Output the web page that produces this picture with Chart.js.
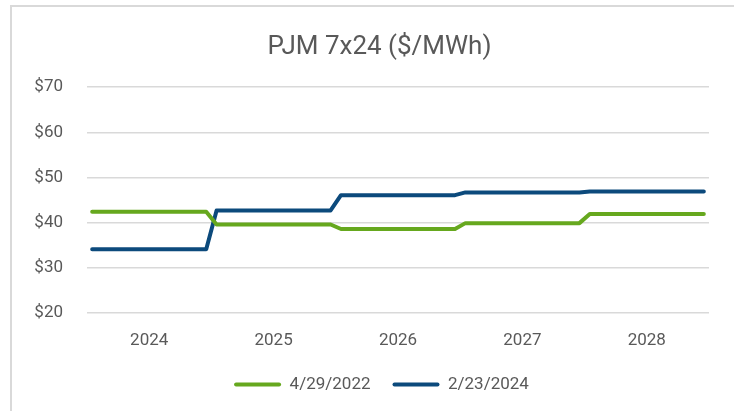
<!DOCTYPE html>
<html>
<head>
<meta charset="utf-8">
<script src="https://cdn.jsdelivr.net/npm/chart.js@4"></script>
<style>
  html, body { margin: 0; padding: 0; background: #ffffff; }
  #wrap { position: relative; width: 734px; height: 411px; overflow: hidden; background: #ffffff; }
  #frame { position: absolute; left: 10px; top: 5px; width: 800px; height: 500px; border: 2px solid #d9d9d9; box-sizing: border-box; }
  #c { position: absolute; left: 0; top: 0; }
</style>
</head>
<body>
<div id="wrap">
  <div id="frame"></div>
  <canvas id="c" width="734" height="411"></canvas>
</div>
<script>
// ---- Data ----
const years = ["2024", "2025", "2026", "2027", "2028"];
const months = [
  "Jan 2024","Feb 2024","Mar 2024","Apr 2024","May 2024","Jun 2024","Jul 2024","Aug 2024","Sep 2024","Oct 2024","Nov 2024","Dec 2024",
  "Jan 2025","Feb 2025","Mar 2025","Apr 2025","May 2025","Jun 2025","Jul 2025","Aug 2025","Sep 2025","Oct 2025","Nov 2025","Dec 2025",
  "Jan 2026","Feb 2026","Mar 2026","Apr 2026","May 2026","Jun 2026","Jul 2026","Aug 2026","Sep 2026","Oct 2026","Nov 2026","Dec 2026",
  "Jan 2027","Feb 2027","Mar 2027","Apr 2027","May 2027","Jun 2027","Jul 2027","Aug 2027","Sep 2027","Oct 2027","Nov 2027","Dec 2027",
  "Jan 2028","Feb 2028","Mar 2028","Apr 2028","May 2028","Jun 2028","Jul 2028","Aug 2028","Sep 2028","Oct 2028","Nov 2028","Dec 2028"
];
const series2022Label = "4/29/2022";
const series2022 = [
  42.4,42.4,42.4,42.4,42.4,42.4,42.4,42.4,42.4,42.4,42.4,42.4,
  39.6,39.6,39.6,39.6,39.6,39.6,39.6,39.6,39.6,39.6,39.6,39.6,
  38.6,38.6,38.6,38.6,38.6,38.6,38.6,38.6,38.6,38.6,38.6,38.6,
  39.9,39.9,39.9,39.9,39.9,39.9,39.9,39.9,39.9,39.9,39.9,39.9,
  41.9,41.9,41.9,41.9,41.9,41.9,41.9,41.9,41.9,41.9,41.9,41.9
];
const series2024Label = "2/23/2024";
const series2024 = [
  34.1,34.1,34.1,34.1,34.1,34.1,34.1,34.1,34.1,34.1,34.1,34.1,
  42.7,42.7,42.7,42.7,42.7,42.7,42.7,42.7,42.7,42.7,42.7,42.7,
  46.1,46.1,46.1,46.1,46.1,46.1,46.1,46.1,46.1,46.1,46.1,46.1,
  46.7,46.7,46.7,46.7,46.7,46.7,46.7,46.7,46.7,46.7,46.7,46.7,
  46.9,46.9,46.9,46.9,46.9,46.9,46.9,46.9,46.9,46.9,46.9,46.9
];
const yTicks = [20, 30, 40, 50, 60, 70];
const titleText = "PJM 7x24 ($/MWh)";

// ---- Styles ----
const GREEN = "#66a81e";
const BLUE = "#0c4a7c";
const TEXT = "#595959";
const GRID = "#d9d9d9";
const FONT = "Roboto, 'DejaVu Sans', sans-serif";

// Shift title and legend so they are centred on the frame like the reference
const shiftBoxes = {
  id: "shiftBoxes",
  afterLayout(chart) {
    if (chart.titleBlock) { chart.titleBlock.left += 18; chart.titleBlock.right += 18; }
    if (chart.legend) { chart.legend.left += 20; chart.legend.right += 20; }
  }
};

const chart = new Chart(document.getElementById("c"), {
  type: "line",
  plugins: [shiftBoxes],
  data: {
    labels: months,
    datasets: [
      { label: series2022Label, data: series2022, borderColor: GREEN, backgroundColor: GREEN,
        borderWidth: 4, pointRadius: 0, tension: 0, borderCapStyle: "round", borderJoinStyle: "round" },
      { label: series2024Label, data: series2024, borderColor: BLUE, backgroundColor: BLUE,
        borderWidth: 4, pointRadius: 0, tension: 0, borderCapStyle: "round", borderJoinStyle: "round" }
    ]
  },
  options: {
    responsive: false,
    animation: false,
    devicePixelRatio: 1,
    layout: { padding: { left: 14, right: 25, top: 0, bottom: 8 } },
    plugins: {
      tooltip: { enabled: false },
      title: {
        display: true, text: titleText, color: TEXT,
        font: { family: FONT, size: 26, weight: "normal" },
        padding: { top: 32, bottom: 24 }
      },
      legend: {
        position: "bottom",
        labels: {
          color: TEXT,
          font: { family: FONT, size: 17 },
          boxWidth: 47, boxHeight: 4, padding: 22,
          generateLabels: (ch) => Chart.defaults.plugins.legend.labels.generateLabels(ch)
            .map(l => Object.assign(l, { lineWidth: 0, borderRadius: 2 }))
        }
      }
    },
    scales: {
      x: {
        type: "category",
        offset: true,
        grid: { display: false },
        border: { display: false },
        ticks: {
          autoSkip: false, maxRotation: 0, minRotation: 0,
          color: TEXT, font: { family: FONT, size: 17 }, padding: 10,
          labelOffset: 5.2,
          callback: function (v, i) {
            const lab = months[i];
            return lab.startsWith("Jun") ? lab.slice(4) : "";
          }
        },
        afterFit: (s) => { s.height = 41; }
      },
      y: {
        min: 20, max: 70,
        afterBuildTicks: (s) => { s.ticks = yTicks.map(v => ({ value: v })); },
        grid: { color: GRID, lineWidth: 1.5, drawTicks: false },
        border: { display: false },
        ticks: {
          color: TEXT, font: { family: FONT, size: 17 }, padding: 24,
          callback: (v) => "$" + v
        },
        afterFit: (s) => { s.width = 73; }
      }
    }
  }
});
</script>
</body>
</html>
